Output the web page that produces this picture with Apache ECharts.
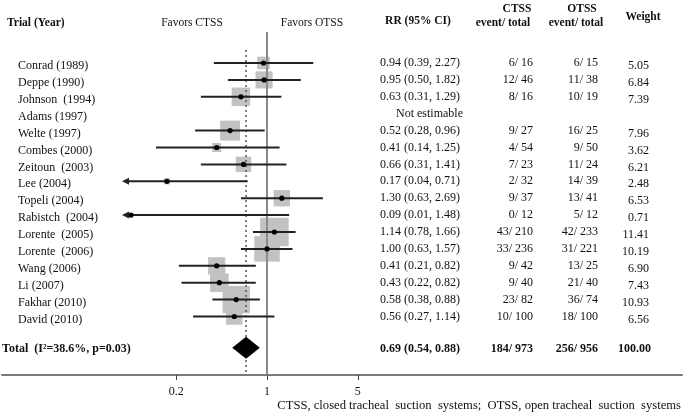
<!DOCTYPE html>
<html><head><meta charset="utf-8">
<script src="https://cdn.jsdelivr.net/npm/echarts@6/dist/echarts.min.js"></script>
<style>html,body{margin:0;padding:0;background:#fff}#c{width:685px;height:419px}</style>
</head><body><div id="c"></div>
<script>
// ---------------- data ----------------
const trials = ['Conrad (1989)','Deppe (1990)','Johnson  (1994)','Adams (1997)','Welte (1997)','Combes (2000)','Zeitoun  (2003)','Lee (2004)','Topeli (2004)','Rabistch  (2004)','Lorente  (2005)','Lorente  (2006)','Wang (2006)','Li (2007)','Fakhar (2010)','David (2010)'];
const rr     = [0.94,0.95,0.63,null,0.52,0.41,0.66,0.17,1.30,0.09,1.14,1.00,0.41,0.43,0.58,0.56];
const ciLow  = [0.39,0.50,0.31,null,0.28,0.14,0.31,0.04,0.63,0.01,0.78,0.63,0.21,0.22,0.38,0.27];
const ciHigh = [2.27,1.82,1.29,null,0.96,1.25,1.41,0.71,2.69,1.48,1.66,1.57,0.82,0.82,0.88,1.14];
const ctssEvent = [6,12,8,null,9,4,7,2,9,0,43,33,9,9,23,10];
const ctssTotal = [16,46,16,null,27,54,23,32,37,12,210,236,42,40,82,100];
const otssEvent = [6,11,10,null,16,9,11,14,13,5,42,31,13,21,36,18];
const otssTotal = [15,38,19,null,25,50,24,39,41,12,233,221,25,40,74,100];
const weights   = [5.05,6.84,7.39,null,7.96,3.62,6.21,2.48,6.53,0.71,11.41,10.19,6.90,7.43,10.93,6.56];
const totalRR = 0.69, totalLow = 0.54, totalHigh = 0.88;
const totalLabel = 'Total  (I\u00B2=38.6%, p=0.03)';
const totalCtss = '184/ 973', totalOtss = '256/ 956', totalWeight = '100.00';
const xTicks = [0.2, 1, 5];
const xTickLabels = ['0.2', '1', '5'];
const notEstimable = 'Not estimable';

// ---------------- layout ----------------
const W = 685, H = 419;
const gridLeft = 2, gridRight = 3, gridTop = 0, gridBottom = 44;
const plotW = W - gridLeft - gridRight;
const onePx = 265, decadePx = 130;
const xMin = Math.pow(10, -onePx / decadePx);
const xMax = Math.pow(10, (plotW - onePx) / decadePx);
const rowTopPx = 63, rowStep = 16.9;
const plotH = H - gridTop - gridBottom;
const yMin = -rowTopPx / rowStep, yMax = yMin + plotH / rowStep;
const totalRow = 16.85;
const clipLow = Math.pow(10, (122 - gridLeft - onePx) / decadePx);
const solidTopRow = (32 - rowTopPx) / rowStep;
const dashTopRow = (50 - rowTopPx) / rowStep;
const sqScale = 2.5;
const serif = '"Liberation Serif","Times New Roman",serif';
const txt = '#111';

const studyIdx = trials.map((t, i) => i).filter(i => rr[i] != null);

// table cells
const cells = [];
trials.forEach((t, i) => {
  cells.push({x: 18, row: i, text: t, align: 'left', dy: 3});
  if (rr[i] == null) {
    cells.push({x: 396, row: i, text: notEstimable, align: 'left', dy: 0});
  } else {
    cells.push({x: 380, row: i, text: rr[i].toFixed(2) + ' (' + ciLow[i].toFixed(2) + ', ' + ciHigh[i].toFixed(2) + ')', align: 'left', dy: 0});
    cells.push({x: 533, row: i, text: ctssEvent[i] + '/ ' + ctssTotal[i], align: 'right', dy: 0});
    cells.push({x: 598, row: i, text: otssEvent[i] + '/ ' + otssTotal[i], align: 'right', dy: 0});
    cells.push({x: 649, row: i, text: weights[i].toFixed(2), align: 'right', dy: 3});
  }
});
cells.push({x: 2, row: totalRow, text: totalLabel, align: 'left', dy: 1, bold: true});
cells.push({x: 380, row: totalRow, text: totalRR.toFixed(2) + ' (' + totalLow.toFixed(2) + ', ' + totalHigh.toFixed(2) + ')', align: 'left', dy: 1, bold: true});
cells.push({x: 533, row: totalRow, text: totalCtss, align: 'right', dy: 1, bold: true});
cells.push({x: 598, row: totalRow, text: totalOtss, align: 'right', dy: 1, bold: true});
cells.push({x: 651, row: totalRow, text: totalWeight, align: 'right', dy: 1, bold: true});

function gtext(x, y, text, align, bold, size) {
  return {type: 'text', x: x, y: y, style: {text: text, fill: txt, align: align, verticalAlign: 'middle',
    font: (bold ? 'bold ' : '') + (size || 12) + 'px ' + serif}};
}

const chart = echarts.init(document.getElementById('c'), null, {renderer: 'canvas'});
chart.setOption({
  animation: false,
  backgroundColor: '#fff',
  grid: {left: gridLeft, right: gridRight, top: gridTop, bottom: gridBottom},
  xAxis: [
    {type: 'log', logBase: 10, min: xMin, max: xMax,
     axisLine: {show: true, onZero: false, lineStyle: {color: '#7a7a7a', width: 2}},
     axisTick: {show: true, customValues: xTicks, length: 5, lineStyle: {color: '#444', width: 1}},
     axisLabel: {show: true, customValues: xTicks, margin: 11, color: txt, fontFamily: serif, fontSize: 12,
       formatter: v => { const k = xTicks.findIndex(t => Math.abs(t - v) < 1e-6); return k >= 0 ? xTickLabels[k] : ''; }},
     splitLine: {show: false}, minorTick: {show: false}},
    {type: 'value', min: gridLeft, max: W - gridRight, show: false}
  ],
  yAxis: [{type: 'value', inverse: true, min: yMin, max: yMax, show: false}],
  graphic: [
    gtext(7, 23, 'Trial (Year)', 'left', true, 11.5),
    gtext(192, 23, 'Favors CTSS', 'center', false, 11.5),
    gtext(312, 23, 'Favors OTSS', 'center', false, 11.5),
    gtext(418, 21, 'RR (95% CI)', 'center', true, 11.5),
    gtext(517, 9, 'CTSS', 'center', true, 11.5),
    gtext(503, 23, 'event/ total', 'center', true, 11.5),
    gtext(582, 9, 'OTSS', 'center', true, 11.5),
    gtext(576, 23, 'event/ total', 'center', true, 11.5),
    gtext(643, 17, 'Weight', 'center', true, 11.5),
    gtext(681, 406, 'CTSS, closed tracheal  suction  systems;  OTSS, open tracheal  suction  systems', 'right', false, 12.6)
  ],
  series: [
    { // weight squares
      type: 'custom', z: 1, xAxisIndex: 0, yAxisIndex: 0,
      data: studyIdx.map(i => [rr[i], i, weights[i]]),
      renderItem: (params, api) => {
        const p = api.coord([api.value(0), api.value(1)]);
        const s = api.value(2) * sqScale;
        return {type: 'rect', shape: {x: p[0] - s / 2, y: p[1] - s / 2, width: s, height: s},
          style: {fill: '#c2c2c2'}};
      }
    },
    { // no-effect line
      type: 'line', z: 2, xAxisIndex: 0, yAxisIndex: 0, symbol: 'none', silent: true,
      data: [[1, solidTopRow], [1, yMax]], lineStyle: {color: '#8a8a8a', width: 2}
    },
    { // pooled estimate dashed line
      type: 'line', z: 2, xAxisIndex: 0, yAxisIndex: 0, symbol: 'none', silent: true,
      data: [[totalRR, dashTopRow], [totalRR, yMax]], lineStyle: {color: '#555', width: 1.5, type: [2, 3]}
    },
    { // confidence intervals + points
      type: 'custom', z: 3, xAxisIndex: 0, yAxisIndex: 0,
      data: studyIdx.map(i => [rr[i], i, ciLow[i], ciHigh[i]]),
      renderItem: (params, api) => {
        const lo = api.value(2), hi = api.value(3);
        const clipped = lo < clipLow;
        const a = api.coord([clipped ? clipLow : lo, api.value(1)]);
        const b = api.coord([hi, api.value(1)]);
        const p = api.coord([api.value(0), api.value(1)]);
        const kids = [
          {type: 'line', shape: {x1: a[0] + (clipped ? 4 : 0), y1: a[1], x2: b[0], y2: b[1]}, style: {stroke: '#222', lineWidth: 2}},
          {type: 'circle', shape: {cx: p[0], cy: p[1], r: 2.6}, style: {fill: '#000'}}
        ];
        if (clipped) kids.push({type: 'polygon', shape: {points: [[a[0], a[1]], [a[0] + 7, a[1] - 3.5], [a[0] + 7, a[1] + 3.5]]}, style: {fill: '#222'}});
        return {type: 'group', children: kids};
      }
    },
    { // pooled diamond
      type: 'custom', z: 3, xAxisIndex: 0, yAxisIndex: 0,
      data: [[totalRR, totalRow, totalLow, totalHigh]],
      renderItem: (params, api) => {
        const l = api.coord([api.value(2), api.value(1)]);
        const h = api.coord([api.value(3), api.value(1)]);
        const m = api.coord([api.value(0), api.value(1)]);
        return {type: 'polygon', shape: {points: [[l[0], l[1]], [m[0], m[1] - 11], [h[0], h[1]], [m[0], m[1] + 11]]},
          style: {fill: '#000'}};
      }
    },
    { // table text
      type: 'custom', z: 4, xAxisIndex: 1, yAxisIndex: 0,
      data: cells.map(c => [c.x, c.row]),
      renderItem: (params, api) => {
        const c = cells[params.dataIndex];
        const p = api.coord([api.value(0), api.value(1)]);
        return {type: 'text', x: p[0], y: p[1] + c.dy, style: {text: c.text, fill: txt, align: c.align, verticalAlign: 'middle',
          font: (c.bold ? 'bold ' : '') + '12px ' + serif}};
      }
    }
  ]
});
</script>
</body></html>
